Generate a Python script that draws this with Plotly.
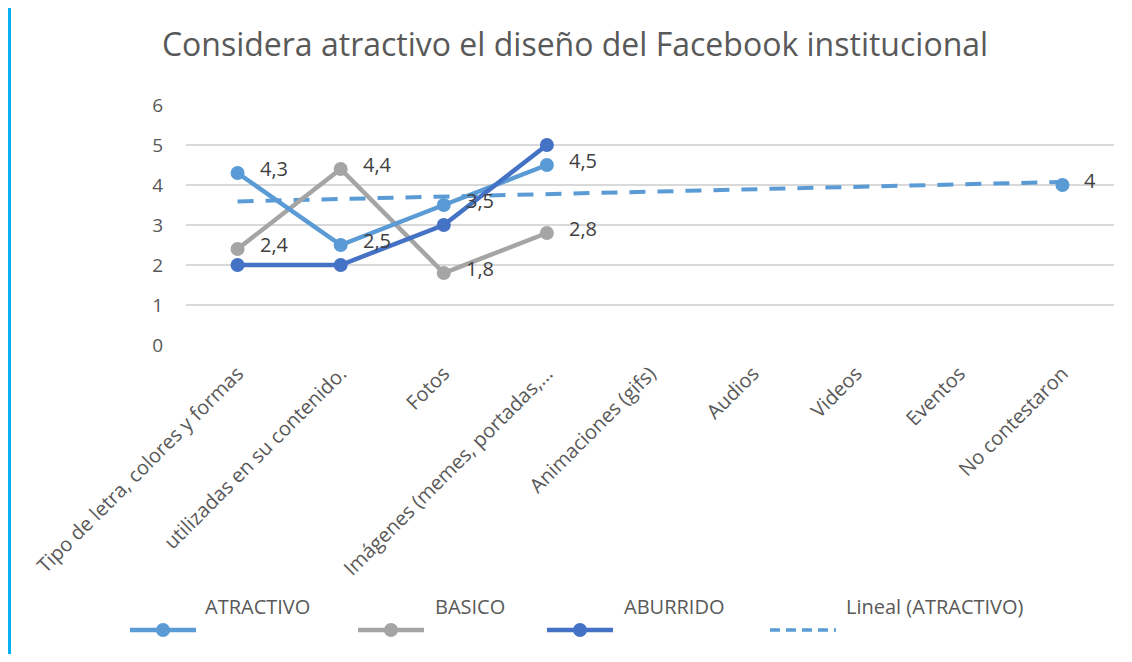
import numpy as np
import plotly.graph_objects as go

# Categories and series values
categorias = [
    "Tipo de letra, colores y formas",
    "utilizadas en su contenido.",
    "Fotos",
    "Imágenes (memes, portadas,...",
    "Animaciones (gifs)",
    "Audios",
    "Videos",
    "Eventos",
    "No contestaron",
]
atractivo = [4.3, 2.5, 3.5, 4.5, None, None, None, None, 4]
basico = [2.4, 4.4, 1.8, 2.8, None, None, None, None, None]
aburrido = [2, 2, 3, 5, None, None, None, None, None]

C_ATR = "#5B9BD5"
C_BAS = "#A5A5A5"
C_ABU = "#4472C4"
TXT = "#595959"
FONT = "'Open Sans', Lato, sans-serif"

fig = go.Figure()

# Linear trend of ATRACTIVO (Excel numbers categories 1..n)
xs = [i + 1 for i, v in enumerate(atractivo) if v is not None]
ys = [v for v in atractivo if v is not None]
pend, inter = np.polyfit(xs, ys, 1)
tendencia = [pend * (i + 1) + inter for i in range(len(categorias))]

fig.add_trace(go.Scatter(x=categorias, y=tendencia, mode="lines",
                         line=dict(color=C_ATR, width=4, dash="16px,12px"),
                         name="Lineal (ATRACTIVO)"))

for nombre, vals, col in [("BASICO", basico, C_BAS),
                          ("ATRACTIVO", atractivo, C_ATR),
                          ("ABURRIDO", aburrido, C_ABU)]:
    fig.add_trace(go.Scatter(x=categorias, y=vals, mode="lines+markers",
                             line=dict(color=col, width=4.5),
                             marker=dict(size=14, color=col),
                             connectgaps=False, name=nombre))

# data labels (ATRACTIVO and BASICO only)
for vals in (atractivo, basico):
    for cat, v in zip(categorias, vals):
        if v is None:
            continue
        fig.add_annotation(x=cat, y=v, text=f"{v:g}".replace(".", ","),
                           showarrow=False, xanchor="left", yanchor="middle",
                           xshift=20, yshift=5,
                           font=dict(size=20, color="#404040", family=FONT))

# page offset of the plot div (body margin)
OFF = 8
W, H = 928, 240
L, T = 186 - OFF, 345 - OFF


def px(x):
    return (x - OFF - L) / W


def py(y):
    return (T - (y - OFF)) / H


leyenda = [("ATRACTIVO", C_ATR, 130, 203, "solid", True),
           ("BASICO", C_BAS, 358, 433, "solid", True),
           ("ABURRIDO", C_ABU, 547, 622, "solid", True),
           ("Lineal (ATRACTIVO)", C_ATR, 770, 844, "10px,6px", False)]
for txt, col, x0, xt, dash, marcador in leyenda:
    fig.add_shape(type="line", xref="paper", yref="paper",
                  x0=px(x0), x1=px(x0 + 66), y0=py(630), y1=py(630),
                  line=dict(color=col, width=4.5 if marcador else 3.5, dash=dash))
    if marcador:
        fig.add_shape(type="circle", xref="paper", yref="paper",
                      x0=px(x0 + 26), x1=px(x0 + 40), y0=py(637), y1=py(623),
                      fillcolor=col, line=dict(color=col, width=0))
    fig.add_annotation(xref="paper", yref="paper", x=px(xt), y=py(606),
                       text=txt, showarrow=False, xanchor="left", yanchor="middle",
                       font=dict(size=20, color=TXT, family=FONT))

# cyan bar at the left edge
fig.add_shape(type="line", xref="paper", yref="paper",
              x0=px(9.5), x1=px(9.5), y0=py(7), y1=py(662),
              line=dict(color="#00B0F0", width=3))

FW, FH = 1132 - 2 * OFF, 662 - 2 * OFF
fig.update_layout(
    width=FW, height=FH,
    margin=dict(l=L, r=FW - L - W, t=105 - OFF, b=FH - T),
    paper_bgcolor="white", plot_bgcolor="white",
    showlegend=False,
    font=dict(family=FONT, color=TXT),
    title=dict(text="Considera atractivo el diseño del Facebook institucional",
               x=px(575), xref="paper", xanchor="center",
               y=1 - (45 - OFF) / FH, yanchor="middle",
               font=dict(size=32, color=TXT, family=FONT)),
)
fig.update_xaxes(type="category", range=[-0.5, len(categorias) - 0.5],
                 tickangle=-45, tickfont=dict(size=20, color=TXT),
                 ticklabelstandoff=12,
                 showgrid=False, showline=False, ticks="", zeroline=False)
fig.update_yaxes(range=[0, 6], dtick=1, showgrid=True, gridcolor="#D9D9D9",
                 gridwidth=1.5, zeroline=False, showline=False,
                 tickfont=dict(size=19, color=TXT), ticklabelstandoff=22)

fig.write_html("out.html")
